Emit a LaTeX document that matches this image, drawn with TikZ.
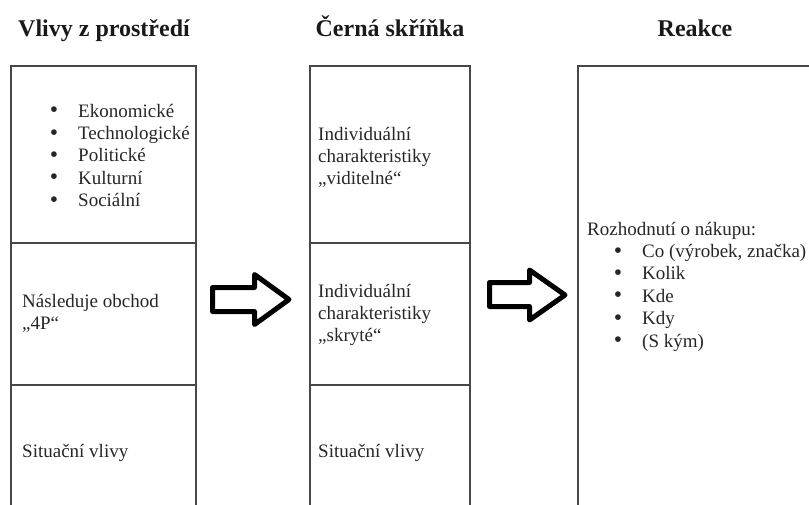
\documentclass[tikz,border=0pt]{standalone}
\usepackage{fontspec}
\setmainfont{Liberation Serif}
\newcommand\mybul{\llap{\raisebox{-0.6pt}{\scalebox{1.25}{\textbullet}}\hspace{20pt}}}
\begin{document}
\begin{tikzpicture}[x=1pt,y=-1pt,
  boxline/.style={draw=black!72, line width=1.4pt},
  colbox/.style={boxline, anchor=north west, inner sep=0pt, outer sep=0pt, minimum height=470pt},
  head/.style={font=\fontsize{24}{28}\selectfont\bfseries, anchor=base, inner sep=0pt, text=black!90},
  txt/.style={font=\fontsize{19}{22.4}\selectfont, anchor=base west, inner sep=0pt, text=black!85},
  blockarrow/.style={draw=black, line width=5pt, fill=white, line join=round}]
\useasboundingbox (0,0) rectangle (809,504);
\clip (0,0) rectangle (809,504);

% headings
\node[head] (h1) at (104,36) {Vlivy z prostředí};
\node[head] (h2) at (390,36) {Černá skříňka};
\node[head] (h3) at (695,36) {Reakce};

% column boxes
\node[colbox, minimum width=185pt] (colL) at (11,66) {};
\node[colbox, minimum width=160pt] (colM) at (310,66) {};
\node[colbox, minimum width=260pt] (colR) at (578,66) {};

% dividers
\draw[boxline] (11,243) -- (196,243);
\draw[boxline] (11,385) -- (196,385);
\draw[boxline] (310,243) -- (470,243);
\draw[boxline] (310,385) -- (470,385);

% left column texts
\node[txt] (envlist) at (78,117) {\begin{tabular}[t]{@{}l@{}}
\mybul Ekonomické\\
\mybul Technologické\\
\mybul Politické\\
\mybul Kulturní\\
\mybul Sociální
\end{tabular}};
\node[txt] (obchod) at (22,307) {\begin{tabular}[t]{@{}l@{}}
Následuje obchod\\
„4P“
\end{tabular}};
\node[txt] (sitL) at (22,457) {Situační vlivy};

% middle column texts
\node[txt] (vid) at (318,140) {\begin{tabular}[t]{@{}l@{}}
Individuální\\
charakteristiky\\
„viditelné“
\end{tabular}};
\node[txt] (skr) at (318,297) {\begin{tabular}[t]{@{}l@{}}
Individuální\\
charakteristiky\\
„skryté“
\end{tabular}};
\node[txt] (sitM) at (318,457) {Situační vlivy};

% right column text
\node[txt] (rozh) at (587,235) {Rozhodnutí o nákupu:};
\node[txt] (rlist) at (642,257.5) {\begin{tabular}[t]{@{}l@{}}
\mybul Co (výrobek, značka)\\
\mybul Kolik\\
\mybul Kde\\
\mybul Kdy\\
\mybul (S kým)
\end{tabular}};

% block arrows
\draw[blockarrow] (212.5,287.5) -- (254.5,287.5) -- (254.5,274.5) -- (289,299.5)
  -- (254.5,324.5) -- (254.5,311.5) -- (212.5,311.5) -- cycle;
\draw[blockarrow] (489.5,282.5) -- (529.5,282.5) -- (529.5,270) -- (565,295)
  -- (529.5,320) -- (529.5,306.5) -- (489.5,306.5) -- cycle;
\end{tikzpicture}
\end{document}
